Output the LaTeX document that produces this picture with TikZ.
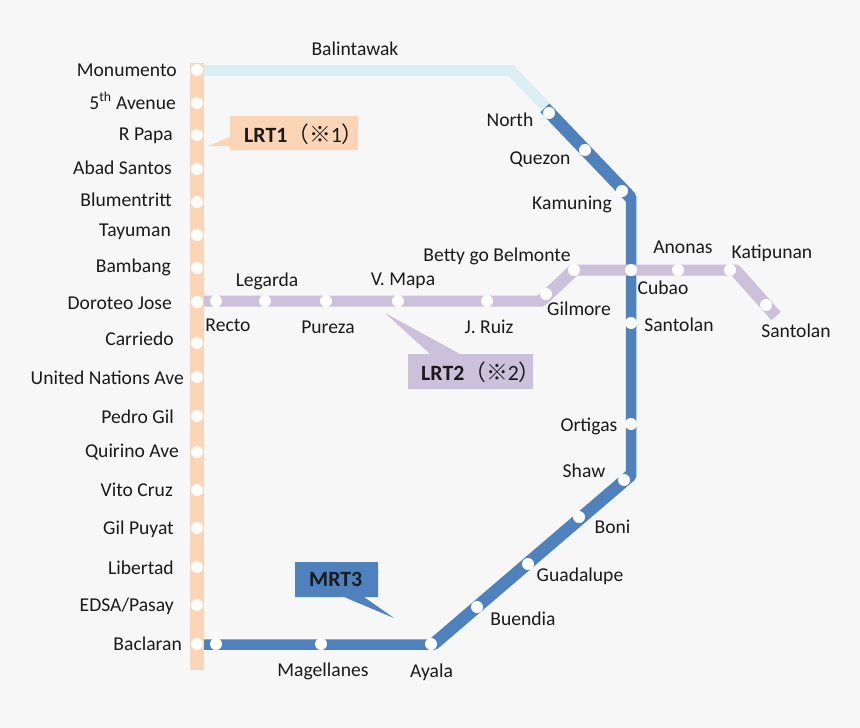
\documentclass[tikz,border=0pt]{standalone}
\usepackage{fontspec}
\setmainfont{Carlito}
\newfontfamily\cjkfont{Noto Sans CJK JP}
\definecolor{bgc}{HTML}{F7F7F7}
\definecolor{lrtone}{HTML}{FBD5B5}
\definecolor{lrttwo}{HTML}{CCC1DA}
\definecolor{mrt}{HTML}{4F81BD}
\definecolor{pale}{HTML}{DBEEF4}
\definecolor{ink}{HTML}{1A1A1A}
\tikzset{
  x=1pt,y=-1pt,
  stn/.style={circle,fill=white,draw=none,minimum size=12pt,inner sep=0pt},
  lbl/.style={font=\fontsize{19.6}{22}\selectfont,text=ink,inner sep=0pt},
  lblr/.style={lbl,anchor=east},
  lbll/.style={lbl,anchor=west},
  tag/.style={font=\fontsize{21.8}{25}\selectfont,text=ink,inner sep=0pt,minimum height=35pt},
  lineone/.style={draw=lrtone,line width=14pt},
  linetwo/.style={draw=lrttwo,line width=11pt,line join=miter},
  linethree/.style={draw=mrt,line width=10.5pt,line join=miter},
  linepale/.style={draw=pale,line width=11pt,line join=miter},
  diagtwo/.style={draw=lrttwo,line width=12.5pt},
  diagthree/.style={draw=mrt,line width=12.5pt},
}
\begin{document}
\begin{tikzpicture}
\fill[bgc] (0,0) rectangle (860,728);
\useasboundingbox (0,0) rectangle (860,728);
% line end points
\coordinate (oneT) at (197,63);
\coordinate (oneB) at (197,670);
\coordinate (paleA) at (204,70.5);
\coordinate (paleB) at (511,70.5);
\coordinate (paleC) at (546,107);
\coordinate (blueA) at (545,108);
\coordinate (blueB) at (631,198);
\coordinate (blueC) at (631,475);
\coordinate (blueD) at (433,644.5);
\coordinate (blueE) at (204,644.5);
\coordinate (purA) at (204,301);
\coordinate (purB) at (541,301);
\coordinate (purC) at (574,270);
\coordinate (purD) at (735,270);
\coordinate (purE) at (776,316);
\draw[linepale] (paleA) -- (paleB) -- (paleC);
\draw[lineone] (oneT) -- (oneB);
\draw[linethree] (blueA) -- (blueB) -- (blueC) -- (blueD) -- (blueE);
\draw[diagthree] (blueA) -- (blueB);
\draw[diagthree] (blueC) -- (blueD);
\draw[linetwo] (purA) -- (purB) -- (purC) -- (purD) -- (purE);
\draw[diagtwo] (purB) -- (purC);
\draw[diagtwo] (purD) -- (purE);
% callouts
\fill[lrtone] (208,146) -- (230,137) -- (230,116) -- (358,116) -- (358,150) -- (230,150) -- (230,146) -- cycle;
\fill[lrttwo] (385,313) -- (460,354) -- (533,354) -- (533,389) -- (408,389) -- (408,354) -- (430,354) -- cycle;
\fill[mrt] (295,562) -- (378,562) -- (378,597) -- (364,597) -- (394,618) -- (344,597) -- (295,597) -- cycle;
\node[tag,anchor=west] (tagone) at (244,134) {\textbf{LRT1}{\cjkfont （※}1{\cjkfont ）}};
\node[tag,anchor=west] (tagtwo) at (421,372) {\textbf{LRT2}{\cjkfont （※}2{\cjkfont ）}};
\node[tag,anchor=west] (tagthree) at (309,579) {\textbf{MRT3}};
% stations
\foreach \n/\px/\py in {a1/197/70,a2/197/103,a3/197/135,a4/197/169,a5/197/202,a6/197/235,a7/197/268,a8/197/302,a9/197/343,a10/197/377,a11/197/416,a12/197/452,a13/197/490,a14/197/528,a15/197/567,a16/197/605,a17/197/644,
 b1/549/113,b2/585/150,b3/622/191,b4/631/323,b5/631/424,b6/624/480,b7/579/517,b8/528/564,b9/477/607,b10/431/644,b11/321/644,b12/216/644,
 c1/216/301,c2/265/301,c3/326/301,c4/398/301,c5/487/301,c6/546/294,c7/574/270,c8/631/270,c9/678/270,c10/730/270,c11/766/305}
  \node[stn] (\n) at (\px,\py) {};
% labels
\node[lblr] (l1) at (177,70) {Monumento};
\node[lblr] (l2) at (176,101) {5\textsuperscript{th} Avenue};
\node[lblr] (l3) at (173,136) {R Papa};
\node[lblr] (l4) at (172,168) {Abad Santos};
\node[lblr] (l5) at (172,200) {Blumentritt};
\node[lblr] (l6) at (171,232) {Tayuman};
\node[lblr] (l7) at (171,267) {Bambang};
\node[lblr] (l8) at (172,303) {Doroteo Jose};
\node[lblr] (l9) at (174,339) {Carriedo};
\node[lblr] (l10) at (184,378) {United Nations Ave};
\node[lblr] (l11) at (174,417) {Pedro Gil};
\node[lblr] (l12) at (179,452) {Quirino Ave};
\node[lblr] (l13) at (173,490) {Vito Cruz};
\node[lblr] (l14) at (174,529) {Gil Puyat};
\node[lblr] (l15) at (174,568) {Libertad};
\node[lblr] (l16) at (174,606) {EDSA/Pasay};
\node[lblr] (l17) at (182,644) {Baclaran};
\node[lbl] (m1) at (355,49) {Balintawak};
\node[lbl] (m2) at (510,120) {North};
\node[lbl] (m3) at (540,159) {Quezon};
\node[lbl] (m4) at (572,204) {Kamuning};
\node[lbl] (m5) at (497,256) {Betty go Belmonte};
\node[lbl] (m6) at (683,247) {Anonas};
\node[lbl] (m7) at (772,253) {Katipunan};
\node[lbl] (m8) at (663,288) {Cubao};
\node[lbl] (m9) at (579,309) {Gilmore};
\node[lbl] (m10) at (679,325) {Santolan};
\node[lbl] (m11) at (796,331) {Santolan};
\node[lbl] (m12) at (267,281) {Legarda};
\node[lbl] (m13) at (403,281) {V. Mapa};
\node[lbl] (m14) at (228,325) {Recto};
\node[lbl] (m15) at (328,327) {Pureza};
\node[lbl] (m16) at (489,327) {J. Ruiz};
\node[lbl] (m17) at (589,426) {Ortigas};
\node[lbl] (m18) at (584,471) {Shaw};
\node[lbl] (m19) at (612.5,527) {Boni};
\node[lbl] (m20) at (580,576) {Guadalupe};
\node[lbl] (m21) at (523,619) {Buendia};
\node[lbl] (m22) at (323,671) {Magellanes};
\node[lbl] (m23) at (431.5,672) {Ayala};
\end{tikzpicture}
\end{document}
